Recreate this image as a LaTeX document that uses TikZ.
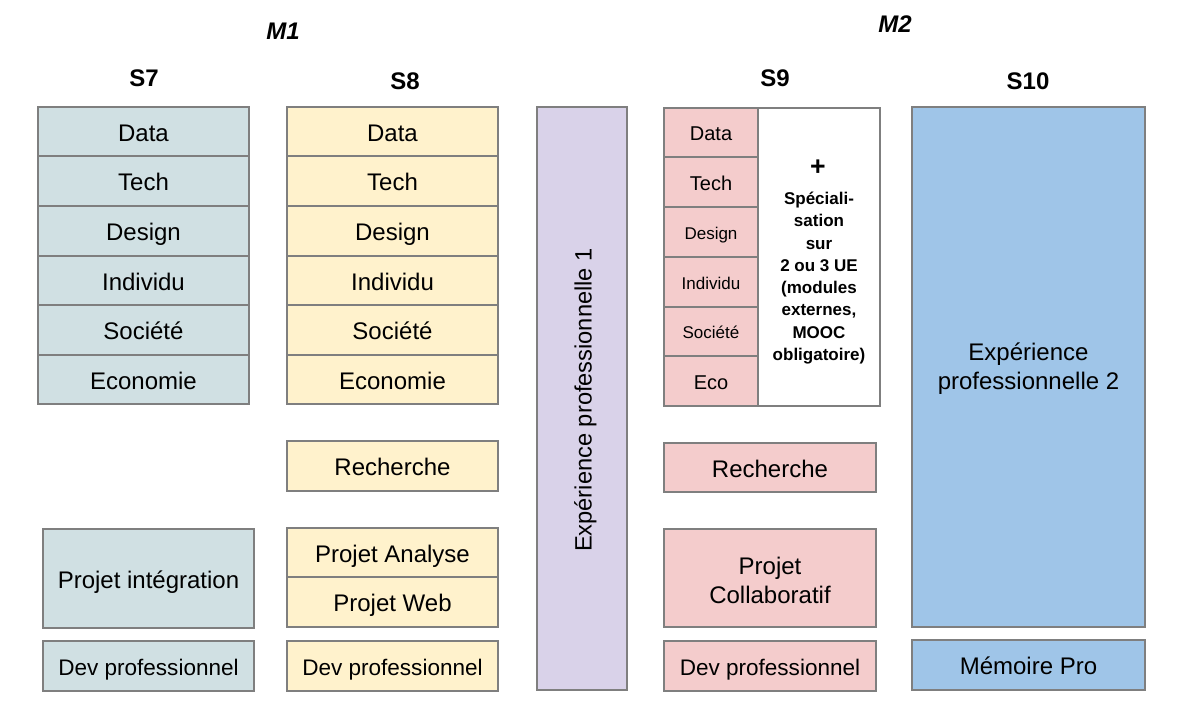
\documentclass[tikz,border=0pt]{standalone}
\usepackage{fontspec}
\setmainfont{Liberation Sans}
\definecolor{cS7}{HTML}{D0E0E3}
\definecolor{cS8}{HTML}{FFF2CC}
\definecolor{cExp}{HTML}{D9D2E9}
\definecolor{cS9}{HTML}{F4CCCC}
\definecolor{cS10}{HTML}{9FC5E8}
\definecolor{bordergray}{HTML}{7F7F7F}
\newcommand\Fspec{\bfseries\fontsize{12.75}{16.7}\selectfont}
\newcommand\Fhead{\bfseries\fontsize{18}{21}\selectfont}
% \cell{name}{x1}{y1}{x2}{y2}{fill}{fontsize pt}{text}
\newcommand\cell[8]{%
  \node[cellbox, fill=#6, font=\fontsize{#7}{#7}\selectfont,
        text height={0.72*#7pt+1.5pt}, text depth=0pt,
        minimum width={(#4-#2)*0.75pt}, minimum height={(#5-#3)*0.75pt}]
        (#1) at ({(#2+#4)/2},{(#3+#5)/2}) {#8};}
% \mcell{name}{x1}{y1}{x2}{y2}{fill}{text}{text centre y}  (two-line label)
\newcommand\mcell[8]{%
  \node[cellbox, fill=#6,
        minimum width={(#4-#2)*0.75pt}, minimum height={(#5-#3)*0.75pt}]
        (#1) at ({(#2+#4)/2},{(#3+#5)/2}) {};
  \node[font=\fontsize{18}{21.75}\selectfont, align=center, inner sep=0pt]
        (#1t) at ({(#2+#4)/2},#8) {#7};}
\begin{document}
\begin{tikzpicture}[x=0.75pt,y=-0.75pt,
  cellbox/.style={draw=bordergray, line width=0.9pt, inner sep=0pt},
  hdr/.style={font=\Fhead, inner sep=0pt, text height=13pt, text depth=0pt}]
\useasboundingbox (0,0) rectangle (1190,716);
% headers
\node[hdr] (m1) at (283,31) {\itshape M1};
\node[hdr] (m2) at (895,24) {\itshape M2};
\node[hdr] (s7) at (144,78) {S7};
\node[hdr] (s8) at (405,81) {S8};
\node[hdr] (s9) at (775,78) {S9};
\node[hdr] (s10) at (1028,81) {S10};
% S7
\cell{s7a}{38}{107}{249}{156}{cS7}{18}{Data}
\cell{s7b}{38}{156}{249}{206}{cS7}{18}{Tech}
\cell{s7c}{38}{206}{249}{256}{cS7}{18}{Design}
\cell{s7d}{38}{256}{249}{305}{cS7}{18}{Individu}
\cell{s7e}{38}{305}{249}{355}{cS7}{18}{Société}
\cell{s7f}{38}{355}{249}{404}{cS7}{18}{Economie}
\cell{s7p}{43}{529}{254}{628}{cS7}{18}{Projet intégration}
\cell{s7dev}{43}{641}{254}{691}{cS7}{16.9}{Dev professionnel}
% S8
\cell{s8a}{287}{107}{498}{156}{cS8}{18}{Data}
\cell{s8b}{287}{156}{498}{206}{cS8}{18}{Tech}
\cell{s8c}{287}{206}{498}{256}{cS8}{18}{Design}
\cell{s8d}{287}{256}{498}{305}{cS8}{18}{Individu}
\cell{s8e}{287}{305}{498}{355}{cS8}{18}{Société}
\cell{s8f}{287}{355}{498}{404}{cS8}{18}{Economie}
\cell{s8r}{287}{441}{498}{491}{cS8}{18}{Recherche}
\cell{s8pa}{287}{528}{498}{577}{cS8}{18}{Projet Analyse}
\cell{s8pw}{287}{577}{498}{627}{cS8}{18}{Projet Web}
\cell{s8dev}{287}{641}{498}{691}{cS8}{16.9}{Dev professionnel}
% Experience 1
\node[cellbox, fill=cExp, minimum width={(627-537)*0.75pt}, minimum height={(690-107)*0.75pt}]
  (exp1) at (582,398.5) {};
\node[rotate=90, font=\fontsize{17.75}{21}\selectfont, inner sep=0pt, text height=12.8pt, text depth=0pt]
  (exp1t) at (583,400) {Expérience professionnelle 1};
% S9
\node[cellbox, fill=white, minimum width={(880-758)*0.75pt}, minimum height={(406-108)*0.75pt}]
  (s9spec) at (819,257) {};
\cell{s9a}{664}{108}{758}{157}{cS9}{15}{Data}
\cell{s9b}{664}{157}{758}{207}{cS9}{15}{Tech}
\cell{s9c}{664}{207}{758}{257}{cS9}{12.75}{Design}
\cell{s9d}{664}{257}{758}{307}{cS9}{12.75}{Individu}
\cell{s9e}{664}{307}{758}{356}{cS9}{12.75}{Société}
\cell{s9f}{664}{356}{758}{406}{cS9}{15}{Eco}
\node[font=\bfseries\fontsize{20}{20}\selectfont, inner sep=0pt] (plus) at (818,168) {+};
\node[font=\Fspec, align=center, inner sep=0pt] (spec) at (819,278)
  {Spéciali-\\sation\\sur\\2 ou 3 UE\\(modules\\externes,\\MOOC\\obligatoire)};
\cell{s9r}{664}{443}{876}{492}{cS9}{18}{Recherche}
\mcell{s9p}{664}{529}{876}{627}{cS9}{Projet\\Collaboratif}{580}
\cell{s9dev}{664}{641}{876}{691}{cS9}{16.9}{Dev professionnel}
% S10
\mcell{s10e}{912}{107}{1145}{627}{cS10}{Expérience\\professionnelle 2}{369}
\cell{s10m}{912}{640}{1145}{690}{cS10}{18}{Mémoire Pro}
\end{tikzpicture}
\end{document}
